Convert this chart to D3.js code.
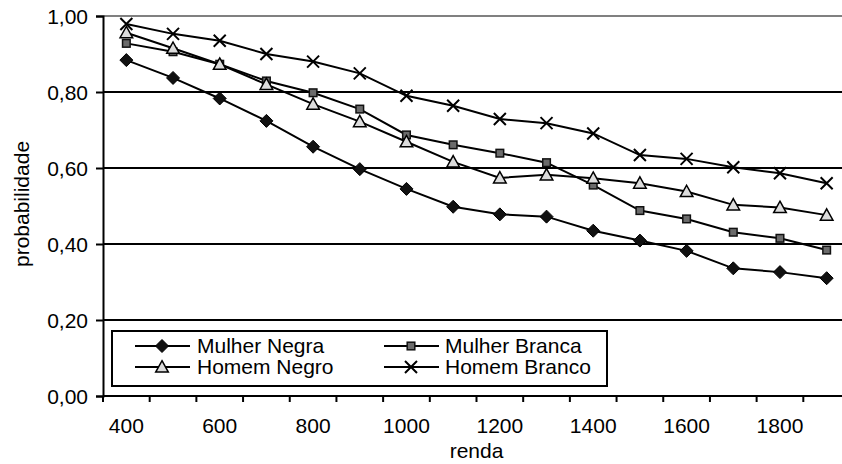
<!DOCTYPE html>
<html>
<head>
<meta charset="utf-8">
<script src="https://cdn.jsdelivr.net/npm/d3@7"></script>
<style>
  html, body { margin: 0; padding: 0; background: #fff; }
  svg { display: block; }
  text { font-family: "Liberation Sans", Arial, sans-serif; fill: #000; }
</style>
</head>
<body>
<svg id="chart" width="842" height="464"></svg>
<script>
const categories = [400, 500, 600, 700, 800, 900, 1000, 1100, 1200, 1300, 1400, 1500, 1600, 1700, 1800, 1900];
const tickLabels = [400, 600, 800, 1000, 1200, 1400, 1600, 1800];
const yTicks = [0, 0.2, 0.4, 0.6, 0.8, 1.0];

const mulherNegra  = [0.884, 0.837, 0.783, 0.724, 0.656, 0.597, 0.545, 0.498, 0.478, 0.472, 0.435, 0.409, 0.382, 0.336, 0.326, 0.310];
const mulherBranca = [0.928, 0.906, 0.873, 0.829, 0.798, 0.755, 0.687, 0.661, 0.639, 0.614, 0.555, 0.488, 0.466, 0.431, 0.415, 0.384];
const homemNegro   = [0.956, 0.915, 0.873, 0.820, 0.768, 0.722, 0.669, 0.616, 0.574, 0.582, 0.573, 0.560, 0.538, 0.503, 0.496, 0.476];
const homemBranco  = [0.979, 0.953, 0.935, 0.900, 0.880, 0.849, 0.790, 0.764, 0.729, 0.718, 0.691, 0.634, 0.624, 0.602, 0.586, 0.560];

const seriesNames = ["Mulher Negra", "Mulher Branca", "Homem Negro", "Homem Branco"];
const seriesValues = [mulherNegra, mulherBranca, homemNegro, homemBranco];
const seriesMarkers = ["diamond", "square", "triangle", "cross"];

const FS = 21;
const svg = d3.select("#chart");
const mLeft = 103, mRight = 850, mTop = 16, mBottom = 396;

const x = d3.scaleBand().domain(categories).range([mLeft, mRight]);
const y = d3.scaleLinear().domain([0, 1]).range([mBottom, mTop]);
const cx = c => x(c) + x.bandwidth() / 2;
const fmt = v => d3.format(".2f")(v).replace(".", ",");

// gridlines
svg.append("g").selectAll("line").data(yTicks.filter(v => v > 0 && v < 1)).join("line")
  .attr("x1", mLeft).attr("x2", mRight)
  .attr("y1", d => y(d)).attr("y2", d => y(d))
  .attr("stroke", "#000").attr("stroke-width", 2);
// top border (gray)
svg.append("line").attr("x1", mLeft).attr("x2", mRight).attr("y1", y(1)).attr("y2", y(1))
  .attr("stroke", "#808080").attr("stroke-width", 2);

// y axis
const yAxis = svg.append("g").attr("transform", `translate(${mLeft},0)`)
  .call(d3.axisLeft(y).tickValues(yTicks).tickFormat(fmt).tickSize(7).tickPadding(8));
yAxis.select(".domain").attr("stroke", "#000").attr("stroke-width", 2);
yAxis.selectAll(".tick line").attr("stroke", "#000").attr("stroke-width", 2);
yAxis.selectAll(".tick text").attr("font-size", FS).attr("font-family", "Liberation Sans, Arial, sans-serif").attr("dy", "0.34em");

// x axis
const xAxis = svg.append("g").attr("transform", `translate(0,${mBottom})`);
xAxis.append("line").attr("x1", mLeft).attr("x2", mRight).attr("stroke", "#000").attr("stroke-width", 2);
const edges = categories.map(c => x(c)).concat([x(categories[categories.length - 1]) + x.bandwidth()]);
xAxis.selectAll("line.tk").data(edges).join("line").attr("class", "tk")
  .attr("x1", d => d).attr("x2", d => d).attr("y1", 0).attr("y2", 6)
  .attr("stroke", "#000").attr("stroke-width", 2);
xAxis.selectAll("text").data(tickLabels).join("text")
  .attr("x", d => cx(d)).attr("y", 37).attr("text-anchor", "middle").attr("font-size", FS)
  .text(d => d);

// axis titles
svg.append("text").attr("x", (mLeft + mRight) / 2).attr("y", 458).attr("text-anchor", "middle")
  .attr("font-size", FS).text("renda");
svg.append("text").attr("transform", `translate(29,${(mTop + mBottom) / 2 - 2}) rotate(-90)`)
  .attr("text-anchor", "middle").attr("font-size", FS).text("probabilidade");

// markers
function drawMarker(g, type, px, py) {
  if (type === "diamond") {
    const s = 6.5;
    g.append("path").attr("d", `M${px},${py - s}L${px + s},${py}L${px},${py + s}L${px - s},${py}Z`)
      .attr("fill", "#111").attr("stroke", "#000").attr("stroke-width", 1);
  } else if (type === "square") {
    const s = 3.8;
    g.append("rect").attr("x", px - s).attr("y", py - s).attr("width", 2 * s).attr("height", 2 * s)
      .attr("fill", "#6b6b6b").attr("stroke", "#111").attr("stroke-width", 1.5);
  } else if (type === "triangle") {
    const s = 6.3;
    g.append("path").attr("d", `M${px},${py - s}L${px + s},${py + s * 0.8}L${px - s},${py + s * 0.8}Z`)
      .attr("fill", "#dcdcdc").attr("stroke", "#000").attr("stroke-width", 1.5);
  } else if (type === "cross") {
    const s = 6;
    g.append("path").attr("d", `M${px - s},${py - s}L${px + s},${py + s}M${px - s},${py + s}L${px + s},${py - s}`)
      .attr("stroke", "#000").attr("stroke-width", 2).attr("fill", "none");
  }
}

const line = d3.line().x((d, i) => cx(categories[i])).y(d => y(d));
seriesValues.forEach((vals, si) => {
  const g = svg.append("g");
  g.append("path").datum(vals).attr("d", line).attr("fill", "none")
    .attr("stroke", "#000").attr("stroke-width", 2);
  vals.forEach((v, i) => drawMarker(g, seriesMarkers[si], cx(categories[i]), y(v)));
});

// legend
const lg = svg.append("g");
lg.append("rect").attr("x", 112).attr("y", 331).attr("width", 495).attr("height", 55)
  .attr("fill", "#fff").attr("stroke", "#000").attr("stroke-width", 2);
const legendPos = [
  { lx: 135, tx: 197, ly: 346 },
  { lx: 384, tx: 445, ly: 346 },
  { lx: 135, tx: 197, ly: 367 },
  { lx: 384, tx: 445, ly: 367 }
];
seriesNames.forEach((name, si) => {
  const p = legendPos[si];
  lg.append("line").attr("x1", p.lx).attr("x2", p.lx + 55).attr("y1", p.ly).attr("y2", p.ly)
    .attr("stroke", "#000").attr("stroke-width", 2);
  drawMarker(lg, seriesMarkers[si], p.lx + 27, p.ly);
  lg.append("text").attr("x", p.tx).attr("y", p.ly + 6.5).attr("font-size", FS).text(name);
});
</script>
</body>
</html>
